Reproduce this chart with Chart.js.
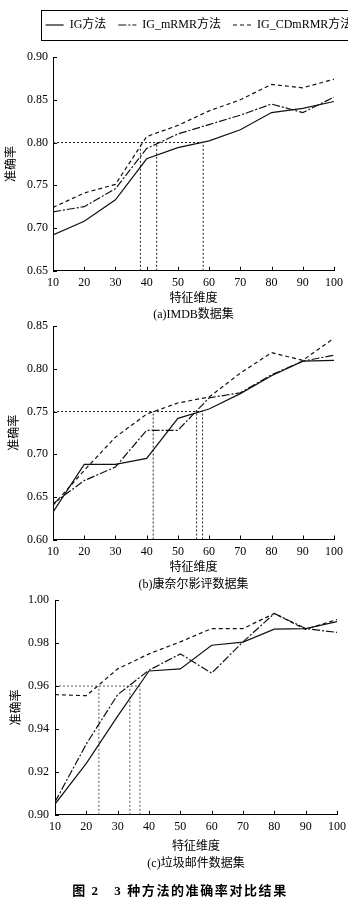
<!DOCTYPE html>
<html><head><meta charset="utf-8">
<script src="https://cdn.jsdelivr.net/npm/chart.js@4.4.1/dist/chart.umd.min.js"></script>
<style>
html,body{margin:0;padding:0;background:#fff;overflow:hidden;}
body{width:364px;height:900px;position:relative;}
.wrap{position:absolute;left:0;}
#fig{position:absolute;left:0;width:360px;top:880px;line-height:16px;text-align:center;font:bold 13px 'Liberation Serif','Noto Sans CJK SC',serif;letter-spacing:1.6px;color:#000;white-space:pre;}
</style></head><body>
<div class="wrap" id="wa" style="top:0;width:364px;height:330px"><canvas id="ca"></canvas></div>
<div class="wrap" id="wb" style="top:310px;width:364px;height:290px"><canvas id="cb"></canvas></div>
<div class="wrap" id="wc" style="top:590px;width:364px;height:290px"><canvas id="cc"></canvas></div>
<div id="fig">图 2   3 种方法的准确率对比结果</div>
<script>
// ---- data ----
const dims = [10, 20, 30, 40, 50, 60, 70, 80, 90, 100];
const seriesNames = ['IG方法', 'IG_mRMR方法', 'IG_CDmRMR方法'];

const igA   = [0.692, 0.708, 0.733, 0.781, 0.794, 0.802, 0.815, 0.835, 0.840, 0.848];
const mrmrA = [0.719, 0.725, 0.746, 0.793, 0.810, 0.821, 0.832, 0.845, 0.835, 0.853];
const cdA   = [0.724, 0.741, 0.751, 0.807, 0.820, 0.837, 0.850, 0.868, 0.864, 0.874];

const igB   = [0.632, 0.688, 0.688, 0.695, 0.742, 0.753, 0.771, 0.792, 0.809, 0.810];
const mrmrB = [0.642, 0.669, 0.685, 0.728, 0.728, 0.766, 0.772, 0.793, 0.809, 0.816];
const cdB   = [0.640, 0.681, 0.720, 0.747, 0.760, 0.767, 0.795, 0.819, 0.810, 0.836];

const igC   = [0.905, 0.924, 0.946, 0.967, 0.968, 0.979, 0.9805, 0.9865, 0.9868, 0.990];
const mrmrC = [0.906, 0.933, 0.956, 0.9674, 0.975, 0.966, 0.9806, 0.9938, 0.9868, 0.985];
const cdC   = [0.956, 0.9555, 0.968, 0.975, 0.9806, 0.9868, 0.9868, 0.9938, 0.9864, 0.991];

const yTicksA = [0.65, 0.70, 0.75, 0.80, 0.85, 0.90];
const yTicksB = [0.60, 0.65, 0.70, 0.75, 0.80, 0.85];
const yTicksC = [0.90, 0.92, 0.94, 0.96, 0.98, 1.00];

const refLevelA = 0.80, refXsA = [38.0, 43.2, 58.1];
const refLevelB = 0.75, refXsB = [42.1, 56.0, 57.9];
const refLevelC = 0.96, refXsC = [24.0, 33.9, 37.1];

const xTitle = '特征维度';
const yTitle = '准确率';
const captions = ['(a)IMDB数据集', '(b)康奈尔影评数据集', '(c)垃圾邮件数据集'];

// ---- styling ----
const FONT = "'Liberation Serif','Noto Sans CJK SC',serif";
Chart.defaults.font.family = FONT;
Chart.defaults.color = '#000';
const dashes = [[], [8, 2, 2, 2], [4, 3]];

const inwardTicks = {
  id: 'inwardTicks',
  afterDatasetsDraw(chart) {
    const {ctx, chartArea: a, scales: {x, y}} = chart;
    ctx.save();
    ctx.strokeStyle = '#000'; ctx.lineWidth = 1; ctx.setLineDash([]);
    ctx.beginPath();
    x.ticks.forEach(t => { const px = Math.round(x.getPixelForValue(t.value)) + 0.5; ctx.moveTo(px, a.bottom); ctx.lineTo(px, a.bottom - 4); });
    y.ticks.forEach(t => { const py = Math.round(y.getPixelForValue(t.value)) + 0.5; ctx.moveTo(a.left, py); ctx.lineTo(a.left + 4, py); });
    ctx.stroke();
    ctx.restore();
  }
};

const LEG_H = 50, LEG_CX = 199;
const legendBox = {
  id: 'legendBox',
  beforeLayout(chart) {
    const lg = chart.legend;
    if (lg && !lg.$p) {
      const f = lg.fit;
      lg.fit = function () { f.call(this); this.height = LEG_H; };
      lg.$p = true;
    }
  },
  afterLayout(chart) {
    const lg = chart.legend;
    const c = LEG_CX - (chart.$ox || 0);
    const half = (lg.right - lg.left) / 2;
    lg.left = c - half; lg.right = c + half;
  },
  afterDraw(chart) {
    const hb = chart.legend.legendHitBoxes;
    if (!hb || !hb.length) return;
    const l = Math.min(...hb.map(h => h.left)) - 5;
    const r = Math.max(...hb.map(h => h.left + h.width)) + 3;
    const cy = hb[0].top + hb[0].height / 2;
    const ctx = chart.ctx;
    ctx.save();
    ctx.strokeStyle = '#000'; ctx.lineWidth = 1; ctx.setLineDash([]);
    ctx.strokeRect(Math.round(l) + 0.5, Math.round(cy - 15) + 0.5, Math.round(r - l), 30);
    ctx.restore();
  }
};

function build(canvasId, series, yTicks, refLevel, refXs, caption, o) {
  const datasets = series.map((s, i) => ({
    label: seriesNames[i],
    data: dims.map((x, j) => ({x, y: s[j]})),
    borderColor: '#111', borderWidth: 1.2, borderDash: dashes[i],
    pointRadius: 0, tension: 0, fill: false
  }));
  const refStyle = {borderColor: o.refColor, borderWidth: 1, borderDash: [2, 2], pointRadius: 0, fill: false};
  datasets.push(Object.assign({label: '_ref', data: [{x: dims[0], y: refLevel}, {x: Math.max(...refXs), y: refLevel}]}, refStyle));
  refXs.forEach(x => datasets.push(Object.assign({label: '_ref', data: [{x, y: yTicks[0]}, {x, y: refLevel}]}, refStyle)));

  return new Chart(document.getElementById(canvasId), {
    type: 'line',
    data: {datasets},
    options: {
      responsive: true, maintainAspectRatio: false, animation: false,
      layout: {padding: 0},
      plugins: {
        tooltip: {enabled: false},
        legend: {
          display: !!o.legend, position: 'top',
          labels: {
            usePointStyle: true, pointStyle: 'line', pointStyleWidth: 18,
            padding: 12, color: '#000', font: {family: FONT, size: 12},
            generateLabels: chart => chart.data.datasets.slice(0, seriesNames.length).map((ds, i) => ({
              text: ds.label, fillStyle: ds.borderColor, strokeStyle: ds.borderColor,
              lineWidth: ds.borderWidth, lineDash: ds.borderDash, lineCap: 'butt',
              pointStyle: 'line', hidden: false, datasetIndex: i, fontColor: '#000'
            }))
          }
        },
        title: {
          display: true, position: 'bottom', fullSize: false, text: caption,
          color: '#000', font: {family: FONT, size: 12, weight: 'normal'},
          padding: {top: o.capPad, bottom: 2}
        }
      },
      scales: {
        x: {
          type: 'linear', min: dims[0], max: dims[dims.length - 1],
          afterBuildTicks: s => { s.ticks = dims.map(v => ({value: v})); },
          grid: {display: false, drawTicks: false},
          border: {display: true, color: '#000', width: 1},
          ticks: {color: '#000', font: {family: FONT, size: 12}, padding: 5, maxRotation: 0, autoSkip: false},
          title: {display: true, text: xTitle, color: '#000', font: {family: FONT, size: 12}, padding: {top: 0, bottom: 0}},
          afterFit: s => { s.height = o.xH; }
        },
        y: {
          type: 'linear', min: yTicks[0], max: yTicks[yTicks.length - 1],
          afterBuildTicks: s => { s.ticks = yTicks.map(v => ({value: v})); },
          grid: {display: false, drawTicks: false},
          border: {display: true, color: '#000', width: 1},
          ticks: {color: '#000', font: {family: FONT, size: 12}, padding: o.yPad, callback: v => Number(v).toFixed(2)},
          title: {display: true, text: yTitle, color: '#000', font: {family: FONT, size: 12}, padding: {top: o.yTitlePad, bottom: 0}},
          afterFit: s => { s.width = o.yW; }
        }
      }
    },
    plugins: o.legend ? [inwardTicks, legendBox] : [inwardTicks]
  });
}

function place(chart, wrap, t) {
  for (let k = 0; k < 4; k++) {
    const a = chart.chartArea;
    const dw = Math.round((t.right - t.left) - (a.right - a.left));
    const dh = Math.round((t.bottom - t.top) - (a.bottom - a.top));
    if (dw === 0 && dh === 0) break;
    wrap.style.width = (parseFloat(wrap.style.width) + dw) + 'px';
    wrap.style.height = (parseFloat(wrap.style.height) + dh) + 'px';
    chart.resize();
  }
  const a = chart.chartArea;
  const ox = Math.round(t.left - a.left), oy = Math.round(t.top - a.top);
  wrap.style.left = ox + 'px'; wrap.style.top = oy + 'px';
  chart.$ox = ox;
  chart.update('none');
}

const chA = build('ca', [igA, mrmrA, cdA], yTicksA, refLevelA, refXsA, captions[0],
  {legend: true, xH: 35.2, capPad: 1.6, yW: 53, yPad: 5, yTitlePad: 5, refColor: '#222'});
const chB = build('cb', [igB, mrmrB, cdB], yTicksB, refLevelB, refXsB, captions[1],
  {legend: false, xH: 35.5, capPad: 2.6, yW: 53, yPad: 5, yTitlePad: 8, refColor: '#222'});
const chC = build('cc', [igC, mrmrC, cdC], yTicksC, refLevelC, refXsC, captions[2],
  {legend: false, xH: 39.2, capPad: 2.6, yW: 55, yPad: 6, yTitlePad: 10, refColor: '#555'});

place(chA, document.getElementById('wa'), {left: 53, top: 57, right: 334, bottom: 271});
place(chB, document.getElementById('wb'), {left: 53, top: 326, right: 334, bottom: 539});
place(chC, document.getElementById('wc'), {left: 55, top: 600, right: 337, bottom: 815});
</script>
</body></html>
